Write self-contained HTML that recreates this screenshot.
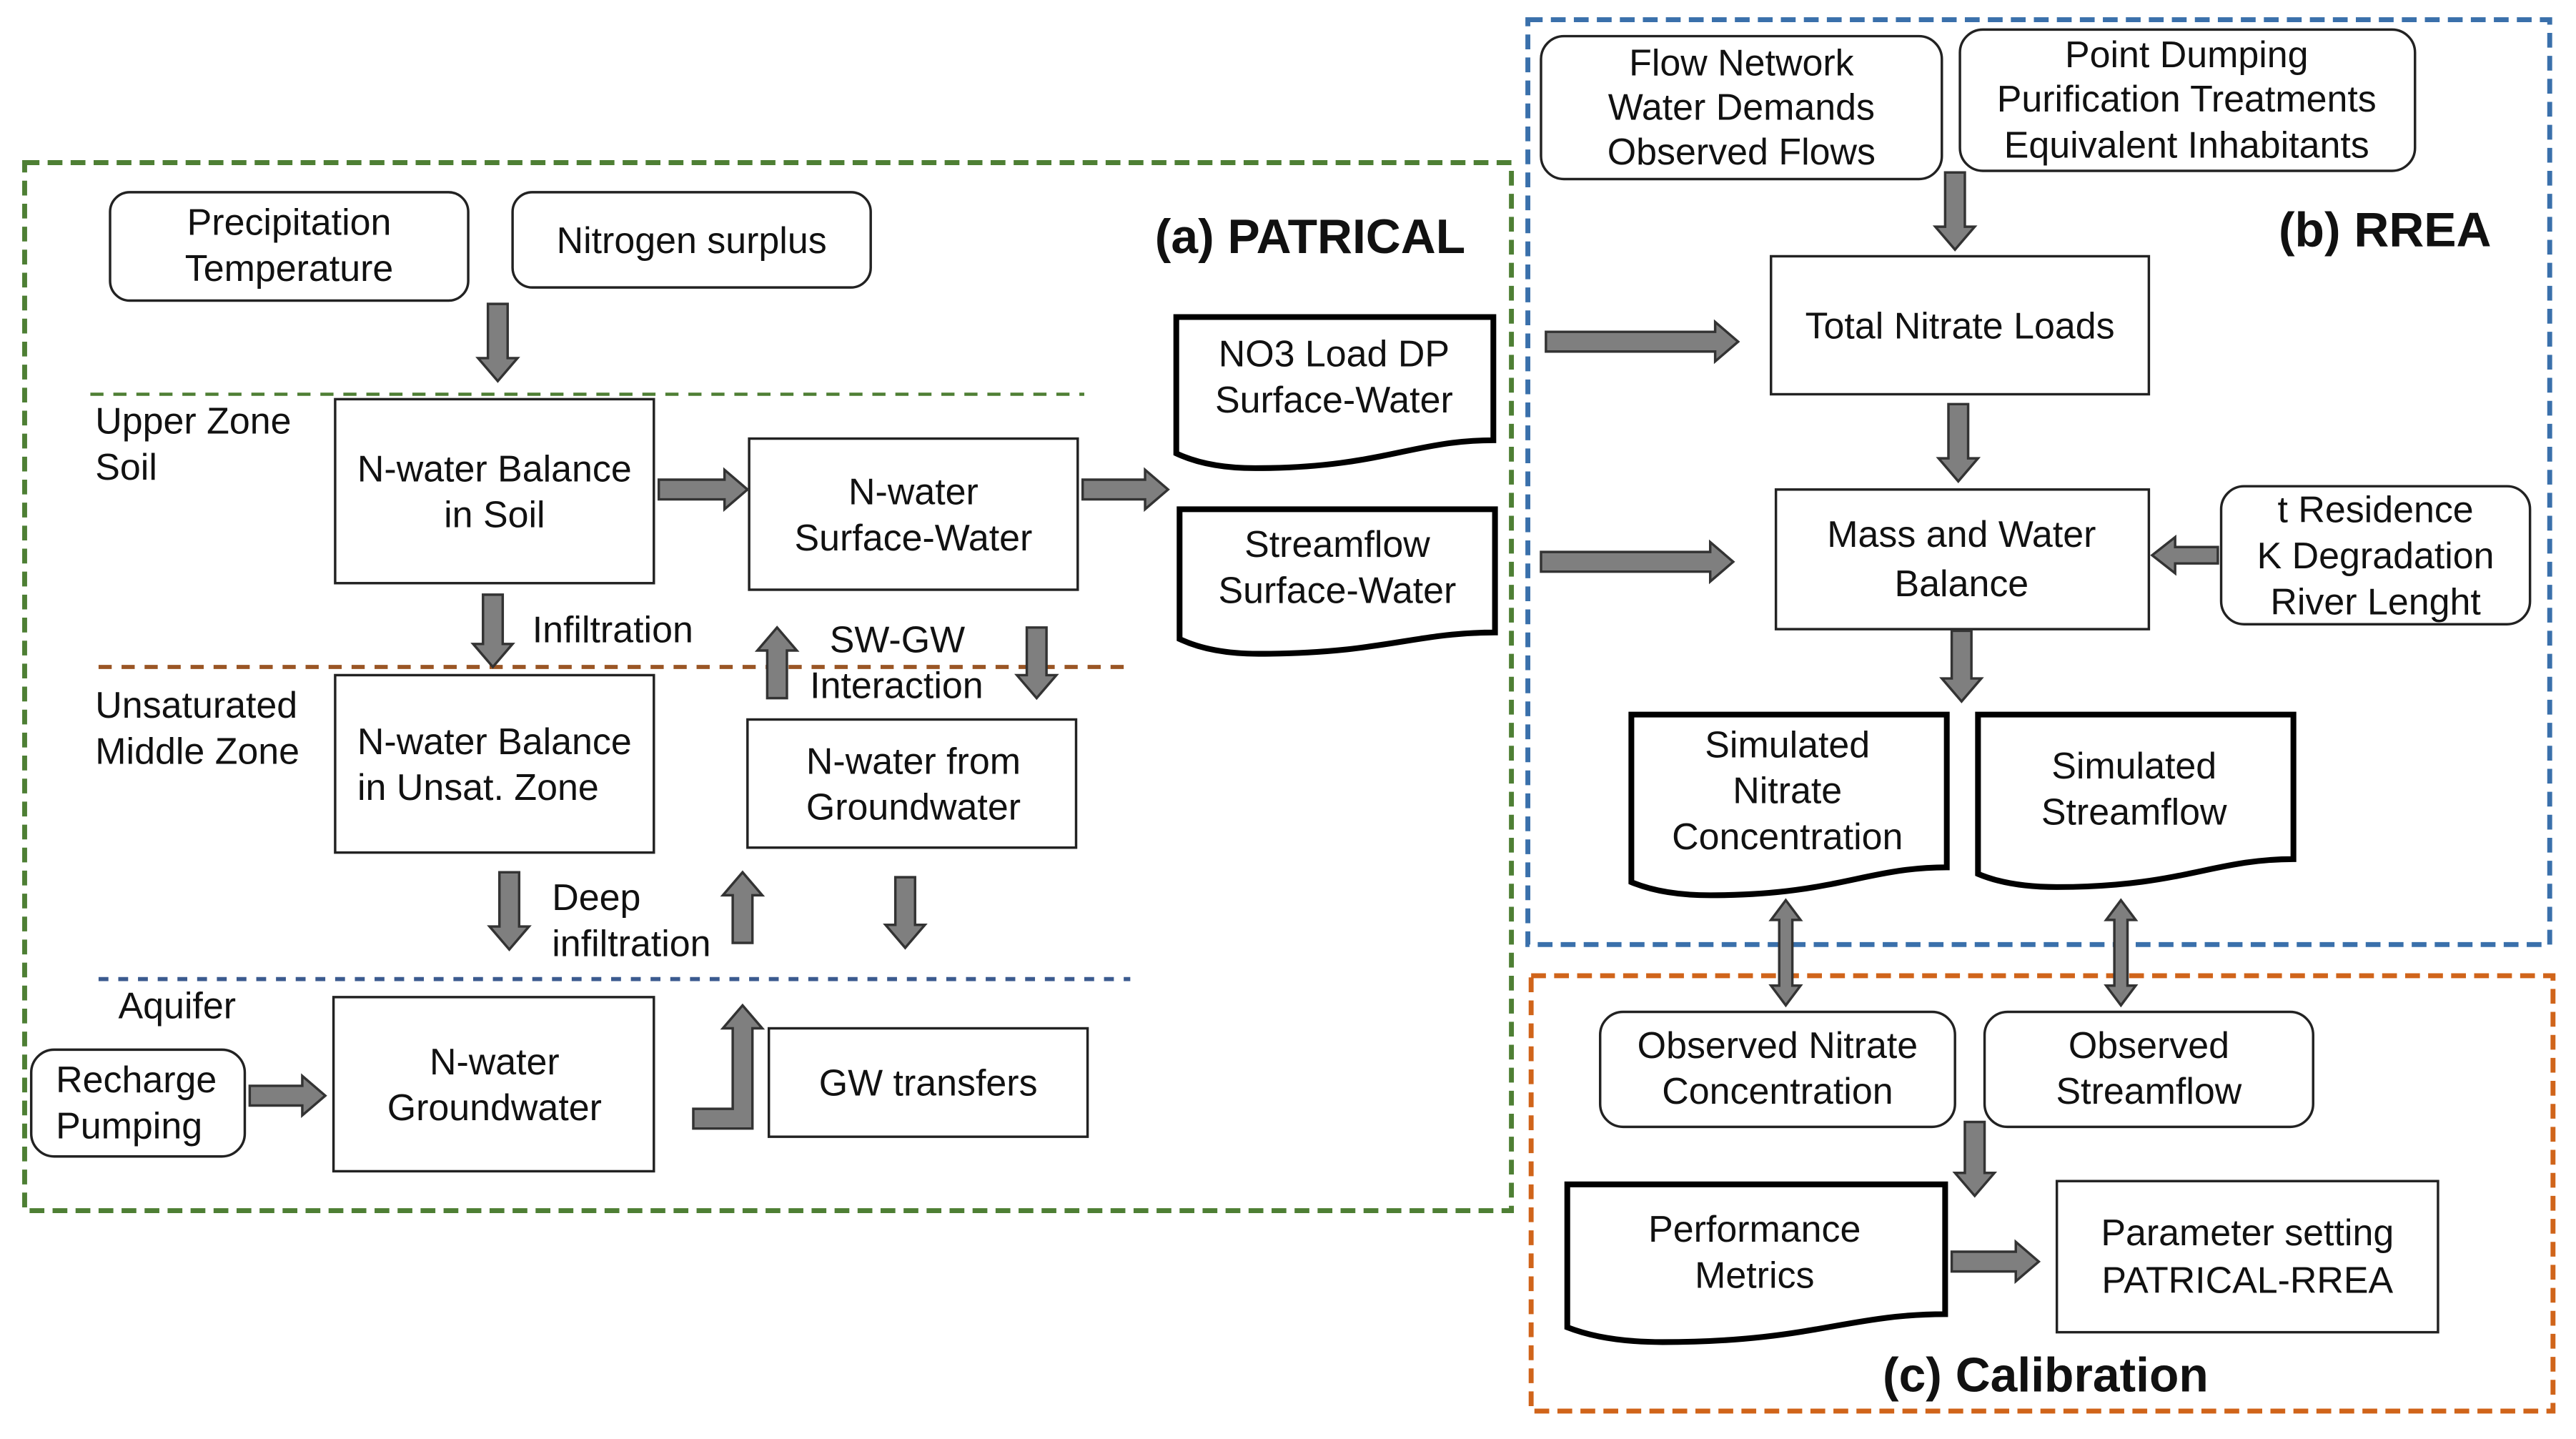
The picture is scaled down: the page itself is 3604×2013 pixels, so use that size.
<!DOCTYPE html>
<html><head><meta charset="utf-8"><style>html,body{margin:0;padding:0;background:#fff}svg{display:block}</style></head>
<body>
<svg width="3604" height="2013" viewBox="0 0 1568 876" preserveAspectRatio="none" xmlns="http://www.w3.org/2000/svg" font-family="Liberation Sans, sans-serif" font-size="22.6" fill="#111">
<rect width="1568" height="876" fill="#fff"/>
<rect x="15" y="99" width="905" height="638" fill="none" stroke="#4e7f34" stroke-width="3" stroke-dasharray="9,5"/>
<rect x="930" y="12" width="622" height="563" fill="none" stroke="#3a70ab" stroke-width="3" stroke-dasharray="9,5"/>
<rect x="932" y="594" width="622" height="265" fill="none" stroke="#d0641a" stroke-width="3" stroke-dasharray="9,5"/>
<line x1="55" y1="240" x2="660" y2="240" stroke="#4e7f34" stroke-width="2" stroke-dasharray="8,6"/>
<line x1="60" y1="406" x2="685" y2="406" stroke="#9a5524" stroke-width="2.5" stroke-dasharray="8,6"/>
<line x1="60" y1="596" x2="688" y2="596" stroke="#3b5a8f" stroke-width="2.5" stroke-dasharray="6,6"/>
<g fill="#fff" stroke="#222" stroke-width="1.5">
<rect x="67" y="117" width="218" height="66" rx="12"/>
<rect x="312" y="117" width="218" height="58" rx="12"/>
<rect x="19" y="639" width="130" height="65" rx="14"/>
<rect x="938" y="22" width="244" height="87" rx="14"/>
<rect x="1193" y="18" width="277" height="86" rx="14"/>
<rect x="1352" y="296" width="188" height="84" rx="14"/>
<rect x="974" y="616" width="216" height="70" rx="14"/>
<rect x="1208" y="616" width="200" height="70" rx="14"/>
<rect x="204" y="243" width="194" height="112"/>
<rect x="456" y="267" width="200" height="92"/>
<rect x="204" y="411" width="194" height="108"/>
<rect x="455" y="438" width="200" height="78"/>
<rect x="203" y="607" width="195" height="106"/>
<rect x="468" y="626" width="194" height="66"/>
<rect x="1078" y="156" width="230" height="84"/>
<rect x="1081" y="298" width="227" height="85"/>
<rect x="1252" y="719" width="232" height="92"/>
</g>
<g fill="#fff" stroke="#000" stroke-width="3.5">
<path d="M716,193 H909 V268 C860,268 840,285 764,285 Q735,285 716,276 Z"/>
<path d="M718,310 H910 V385 C861,385 841,398 766,398 Q737,398 718,389 Z"/>
<path d="M993,435 H1185 V528 C1136,528 1117,545 1041,545 Q1012,545 993,537 Z"/>
<path d="M1204,435 H1396 V523 C1347,523 1328,540 1252,540 Q1223,540 1204,532 Z"/>
<path d="M954,721 H1184 V800 C1125,800 1102,817 1012,817 Q977,817 954,808 Z"/>
</g>
<g fill="#7f7f7f" stroke="#333" stroke-width="1.5" stroke-linejoin="miter">
<polygon points="297,185 309,185 309,218 315,218 303,232 291,218 297,218"/>
<polygon points="401,292 441,292 441,286 455,298 441,310 441,304 401,304"/>
<polygon points="659,292 697,292 697,286 711,298 697,310 697,304 659,304"/>
<polygon points="294,362 306,362 306,392 312,392 300,406 288,392 294,392"/>
<polygon points="467,425 479,425 479,396 485,396 473,382 461,396 467,396"/>
<polygon points="625,382 637,382 637,411 643,411 631,425 619,411 625,411"/>
<polygon points="304,531 316,531 316,564 322,564 310,578 298,564 304,564"/>
<polygon points="446,574 458,574 458,545 464,545 452,531 440,545 446,545"/>
<polygon points="545,534 557,534 557,563 563,563 551,577 539,563 545,563"/>
<polygon points="152,661 184,661 184,655 198,667 184,679 184,673 152,673"/>
<polygon points="422,675 446,675 446,626 440,626 452,612 464,626 458,626 458,687 422,687"/>
<polygon points="941,202 1044,202 1044,196 1058,208 1044,220 1044,214 941,214"/>
<polygon points="938,336 1041,336 1041,330 1055,342 1041,354 1041,348 938,348"/>
<polygon points="1184,105 1196,105 1196,138 1202,138 1190,152 1178,138 1184,138"/>
<polygon points="1186,246 1198,246 1198,279 1204,279 1192,293 1180,279 1186,279"/>
<polygon points="1350,333 1324,333 1324,327 1310,338 1324,349 1324,343 1350,343"/>
<polygon points="1188,384 1200,384 1200,413 1206,413 1194,427 1182,413 1188,413"/>
<polygon points="1087,548 1096,560 1091,560 1091,600 1096,600 1087,612 1078,600 1083,600 1083,560 1078,560"/>
<polygon points="1291,548 1300,560 1295,560 1295,600 1300,600 1291,612 1282,600 1287,600 1287,560 1282,560"/>
<polygon points="1196,683 1208,683 1208,714 1214,714 1202,728 1190,714 1196,714"/>
<polygon points="1188,762 1227,762 1227,756 1241,768 1227,780 1227,774 1188,774"/>
</g>
<g text-anchor="middle">
<text x="176" y="143">Precipitation</text><text x="176" y="171">Temperature</text>
<text x="421" y="154">Nitrogen surplus</text>
<text x="301" y="293">N-water Balance</text><text x="301" y="321">in Soil</text>
<text x="556" y="307">N-water</text><text x="556" y="335">Surface-Water</text>
<text x="812" y="223">NO3 Load DP</text><text x="812" y="251">Surface-Water</text>
<text x="814" y="339">Streamflow</text><text x="814" y="367">Surface-Water</text>
<text x="301" y="459">N-water Balance</text><text x="291" y="487">in Unsat. Zone</text>
<text x="556" y="471">N-water from</text><text x="556" y="499">Groundwater</text>
<text x="301" y="654">N-water</text><text x="301" y="682">Groundwater</text>
<text x="565" y="667">GW transfers</text>
<text x="1060" y="46">Flow Network</text><text x="1060" y="73">Water Demands</text><text x="1060" y="100">Observed Flows</text>
<text x="1331" y="41">Point Dumping</text><text x="1331" y="68">Purification Treatments</text><text x="1331" y="96">Equivalent Inhabitants</text>
<text x="1193" y="206">Total Nitrate Loads</text>
<text x="1194" y="333">Mass and Water</text><text x="1194" y="363">Balance</text>
<text x="1446" y="318">t Residence</text><text x="1446" y="346">K Degradation</text><text x="1446" y="374">River Lenght</text>
<text x="1088" y="461">Simulated</text><text x="1088" y="489">Nitrate</text><text x="1088" y="517">Concentration</text>
<text x="1299" y="474">Simulated</text><text x="1299" y="502">Streamflow</text>
<text x="1082" y="644">Observed Nitrate</text><text x="1082" y="672">Concentration</text>
<text x="1308" y="644">Observed</text><text x="1308" y="672">Streamflow</text>
<text x="1068" y="756">Performance</text><text x="1068" y="784">Metrics</text>
<text x="1368" y="758">Parameter setting</text><text x="1368" y="787">PATRICAL-RREA</text>
</g>
<text x="58" y="264">Upper Zone</text><text x="58" y="292">Soil</text>
<text x="58" y="437">Unsaturated</text><text x="58" y="465">Middle Zone</text>
<text x="72" y="620">Aquifer</text>
<text x="34" y="665">Recharge</text><text x="34" y="693">Pumping</text>
<text x="324" y="391">Infiltration</text>
<text x="505" y="397">SW-GW</text><text x="493" y="425">Interaction</text>
<text x="336" y="554">Deep</text><text x="336" y="582">infiltration</text>
<g font-weight="bold" font-size="29.5">
<text x="703" y="154">(a) PATRICAL</text>
<text x="1387" y="150">(b) RREA</text>
<text x="1146" y="847">(c) Calibration</text>
</g>
</svg>
</body></html>
